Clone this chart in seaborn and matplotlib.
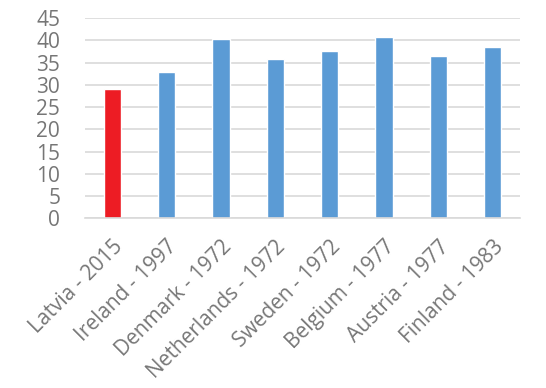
import pandas as pd
import seaborn as sns
import matplotlib.pyplot as plt

categorias = ['Latvia - 2015', 'Ireland - 1997', 'Denmark - 1972', 'Netherlands - 1972',
              'Sweden - 1972', 'Belgium - 1977', 'Austria - 1977', 'Finland - 1983']
valores = [29.1, 32.9, 40.3, 35.9, 37.6, 40.8, 36.6, 38.5]
cores = ['#ED1C24'] + ['#5B9BD5'] * 7

dados = pd.DataFrame({'pais': categorias, 'valor': valores})

sns.set_style('white')
plt.rcParams['font.family'] = ['Open Sans', 'DejaVu Sans']

fig = plt.figure(figsize=(5.46, 3.88), dpi=100)
ax = fig.add_axes([0.156, 0.437, 0.796, 0.516])

sns.barplot(data=dados, x='pais', y='valor', hue='pais', palette=cores,
            width=0.32, legend=False, saturation=1, ax=ax)

ax.set_ylim(0, 45)
ax.set_xlim(-0.5, len(categorias) - 0.5)
ax.set_yticks(range(0, 46, 5))
ax.yaxis.grid(True, color='#D9D9D9', linewidth=1.2)
ax.set_axisbelow(True)
ax.set_xlabel('')
ax.set_ylabel('')

# ticks nas divisões entre categorias
ax.set_xticks([i - 0.5 for i in range(len(categorias) + 1)], minor=True)
ax.set_xticks(range(len(categorias)))
ax.set_xticklabels(categorias, rotation=45, ha='right', rotation_mode='anchor')
ax.tick_params(axis='x', which='major', length=0, pad=13, labelsize=15, labelcolor='#767676')
ax.tick_params(axis='x', which='minor', length=5, color='#D9D9D9', width=1.2, direction='out')
ax.tick_params(axis='y', length=0, pad=18, labelsize=15, labelcolor='#767676')

for lado in ['left', 'right', 'top']:
    ax.spines[lado].set_visible(False)
ax.spines['bottom'].set_color('#D9D9D9')
ax.spines['bottom'].set_linewidth(1.2)

plt.savefig('out.png', dpi=100)
